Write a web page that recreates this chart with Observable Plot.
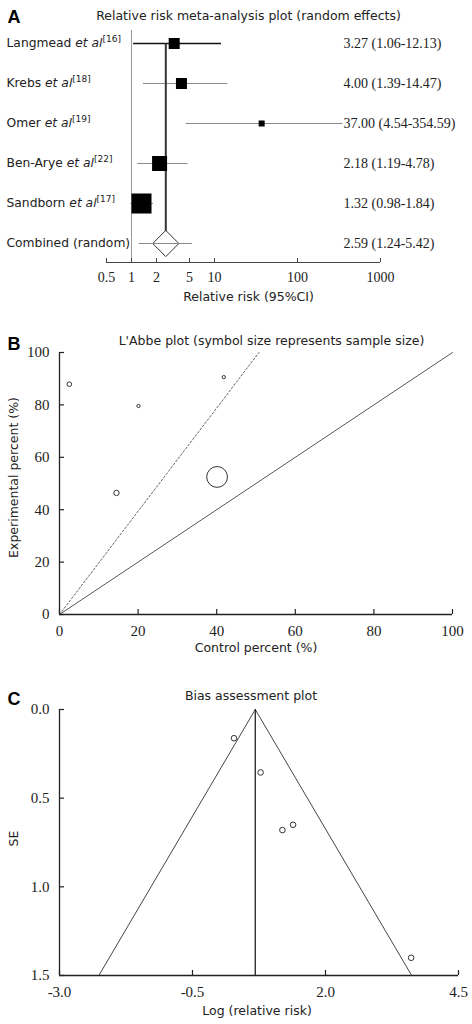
<!DOCTYPE html>
<html><head><meta charset="utf-8">
<script src="https://cdn.jsdelivr.net/npm/d3@7"></script>
<script src="https://cdn.jsdelivr.net/npm/@observablehq/plot@0.6"></script>
<style>
body{margin:0;background:#fff;}
#wrap{position:relative;width:472px;height:1024px;overflow:hidden;}
#wrap svg{position:absolute;left:0;}
</style></head><body><div id="wrap"></div>
<script>
// ---- Panel A data: relative risk meta-analysis ----
const authors = ["Langmead", "Krebs", "Omer", "Ben-Arye", "Sandborn"];
const refs = ["16", "18", "19", "22", "17"];
const rr = [3.27, 4.00, 37.00, 2.18, 1.32];
const ciLow = [1.06, 1.39, 4.54, 1.19, 0.98];
const ciHigh = [12.13, 14.47, 354.59, 4.78, 1.84];
const weights = [13.4, 13.4, 4.0, 24.9, 44.3];
const combinedLabel = "Combined (random)";
const combinedRR = 2.59, combinedLow = 1.24, combinedHigh = 5.42;
const rrTicks = [0.5, 1, 2, 5, 10, 100, 1000];

// ---- Panel B data: L'Abbe plot ----
const controlPct = [14.5, 20.1, 2.5, 41.8, 40.1];
const experimentalPct = [46.4, 79.6, 87.9, 90.6, 52.5];
const sampleSize = [40, 15, 30, 15, 600];
const labbePooledRR = 1.97;
const pctTicks = [0, 20, 40, 60, 80, 100];

// ---- Panel C data: bias assessment (funnel) ----
const logRR = [1.19, 1.39, 3.61, 0.78, 0.28];
const seValues = [0.68, 0.65, 1.40, 0.355, 0.162];
const funnelPooled = 0.68;
const logTicks = [-3.0, -0.5, 2.0, 4.5];
const seTicks = [0.0, 0.5, 1.0, 1.5];

const sans = "DejaVu Sans";
const serif = "Liberation Serif";
const ink = "#222";
const axisInk = "#222";
const baseStyle = {fontFamily: serif, fontSize: "14px", color: ink, background: "transparent", overflow: "visible"};
const sansText = {fontFamily: sans, fontSize: 12.5, fill: ink, lineAnchor: "middle"};
const letterText = {fontFamily: "Liberation Sans", fontWeight: "bold", fontSize: 18, fill: "#000", textAnchor: "start", lineAnchor: "middle", frameAnchor: "top-left"};

// ================= Panel A =================
const rowsA = authors.map((a, i) => ({author: a, ref: refs[i], rr: rr[i], lo: ciLow[i], hi: ciHigh[i], w: weights[i], row: i}));
const comb = {author: combinedLabel, ref: null, rr: combinedRR, lo: combinedLow, hi: combinedHigh, row: rowsA.length};
const allRows = [...rowsA, comb];
const axisRowA = comb.row + 0.475;

const plotA = Plot.plot({
  width: 472, height: 305, marginLeft: 106, marginRight: 92, marginTop: 30, marginBottom: 43,
  style: baseStyle,
  x: {type: "log", domain: [d3.min(rrTicks), d3.max(rrTicks)], axis: null},
  y: {domain: [0, comb.row], range: [43, 243], axis: null},
  r: {type: "sqrt", domain: [0, d3.max(weights)], range: [0, 11.3]},
  marks: [
    Plot.ruleX([1], {stroke: "#999", strokeWidth: 1}),
    Plot.ruleY([axisRowA], {stroke: "#444", strokeWidth: 1.2}),
    Plot.tickX(rrTicks, {x: d => d, insetTop: 228, stroke: "#444", strokeWidth: 1}),
    Plot.text(rrTicks, {x: d => d, text: d => String(d), frameAnchor: "bottom", lineAnchor: "middle", dy: 14.7, fontFamily: serif, fontSize: 14, fill: ink}),
    Plot.ruleY(rowsA, {y: "row", x1: "lo", x2: "hi", stroke: d => d.row === 0 ? "#111" : "#8a8a8a", strokeWidth: d => d.row === 0 ? 1.4 : 1}),
    Plot.ruleX([comb], {x: "rr", y1: 0, y2: "row", stroke: "#333", strokeWidth: 2}),
    Plot.dot(rowsA, {x: "rr", y: "row", r: "w", symbol: "square", fill: "#000", stroke: null}),
    Plot.dot([comb], {x: "rr", y: "row", r: 11.8, symbol: "diamond2", fill: "white", stroke: "#333", strokeWidth: 1}),
    Plot.ruleY([comb], {y: "row", x1: "lo", x2: "hi", stroke: "#8a8a8a", strokeWidth: 1}),
    Plot.text(allRows, {y: "row", text: "author", frameAnchor: "left", textAnchor: "start", dx: -100, fontFamily: sans, fontSize: 12.3, fill: ink}),
    Plot.text(allRows, {y: "row", text: d => `${d.rr.toFixed(2)} (${d.lo.toFixed(2)}-${d.hi.toFixed(2)})`, frameAnchor: "right", textAnchor: "start", dx: -37, fontFamily: serif, fontSize: 14, fill: ink}),
    Plot.text(["Relative risk meta-analysis plot (random effects)"], {...sansText, frameAnchor: "top", dx: 5, dy: -15}),
    Plot.text(["A"], {...letterText, dx: -99, dy: -13.3}),
    Plot.text(["Relative risk (95%CI)"], {...sansText, frameAnchor: "bottom", dx: 5, dy: 34.7})
  ]
});
// rich labels: italic "et al" + superscript reference
const ns = "http://www.w3.org/2000/svg";
plotA.querySelectorAll("text").forEach(t => {
  const d = rowsA.find(r => r.author === t.textContent);
  if (!d) return;
  t.textContent = d.author + " ";
  const it = document.createElementNS(ns, "tspan");
  it.setAttribute("font-style", "italic");
  it.textContent = "et al";
  t.append(it);
  const sup = document.createElementNS(ns, "tspan");
  sup.setAttribute("dy", "-5");
  sup.setAttribute("font-size", "9");
  sup.textContent = `[${d.ref}]`;
  t.append(sup);
});
plotA.style.top = "0px";

// ================= Panel B =================
const ptsB = authors.map((a, i) => ({author: a, c: controlPct[i], e: experimentalPct[i], n: sampleSize[i]}));
const pctExtent = d3.extent(pctTicks);
const plotB = Plot.plot({
  width: 472, height: 350, marginLeft: 59, marginRight: 20, marginTop: 47, marginBottom: 41,
  style: {...baseStyle, fontSize: "15px"},
  x: {domain: pctExtent, axis: null},
  y: {domain: pctExtent, axis: null},
  r: {type: "sqrt", domain: [0, d3.max(sampleSize)], range: [0, 10.4]},
  marks: [
    Plot.line(pctExtent, {x: d => d, y: d => d, stroke: "#555", strokeWidth: 1}),
    Plot.line(pctExtent, {x: d => d / labbePooledRR, y: d => d, stroke: "#666", strokeWidth: 1, strokeDasharray: "2,2"}),
    Plot.ruleX([pctExtent[0]], {stroke: axisInk, strokeWidth: 1.3}),
    Plot.ruleY([pctExtent[0]], {stroke: axisInk, strokeWidth: 1.3}),
    Plot.tickX(pctTicks, {x: d => d, insetTop: 257, stroke: axisInk, strokeWidth: 1.2}),
    Plot.tickY(pctTicks, {y: d => d, insetRight: 388, stroke: axisInk, strokeWidth: 1.2}),
    Plot.text(pctTicks, {x: d => d, text: d => String(d), frameAnchor: "bottom", lineAnchor: "middle", dy: 16.7, fontFamily: serif, fontSize: 15, fill: ink}),
    Plot.text(pctTicks, {y: d => d, text: d => String(d), frameAnchor: "left", textAnchor: "end", dx: -10, fontFamily: serif, fontSize: 15, fill: ink}),
    Plot.dot(ptsB, {x: "c", y: "e", r: "n", stroke: "#333", fill: "none", strokeWidth: 1}),
    Plot.text(["L'Abbe plot (symbol size represents sample size)"], {...sansText, frameAnchor: "top", dx: 15.5, dy: -12}),
    Plot.text(["B"], {...letterText, dx: -52, dy: -8.7}),
    Plot.text(["Control percent (%)"], {...sansText, frameAnchor: "bottom", dy: 33}),
    Plot.text(["Experimental percent (%)"], {...sansText, frameAnchor: "left", textAnchor: "middle", rotate: -90, dx: -46, dy: -6})
  ]
});
plotB.style.top = "305px";

// ================= Panel C =================
const ptsC = authors.map((a, i) => ({author: a, x: logRR[i], se: seValues[i]}));
const seMax = d3.max(seTicks);
const funnel = [
  {x: funnelPooled - 1.96 * seMax, se: seMax},
  {x: funnelPooled, se: 0},
  {x: funnelPooled + 1.96 * seMax, se: seMax}
];
const plotC = Plot.plot({
  width: 472, height: 369, marginLeft: 59, marginRight: 14, marginTop: 54, marginBottom: 49,
  style: {...baseStyle, fontSize: "15px"},
  x: {domain: d3.extent(logTicks), axis: null},
  y: {domain: d3.extent(seTicks), reverse: true, axis: null},
  marks: [
    Plot.line(funnel, {x: "x", y: "se", stroke: "#444", strokeWidth: 1}),
    Plot.ruleX([funnelPooled], {y1: 0, y2: seMax, stroke: "#222", strokeWidth: 1.3}),
    Plot.ruleX([d3.min(logTicks)], {stroke: axisInk, strokeWidth: 1.3}),
    Plot.ruleY([seMax], {stroke: axisInk, strokeWidth: 1.3}),
    Plot.tickX(logTicks, {x: d => d, insetTop: 261, stroke: axisInk, strokeWidth: 1.2}),
    Plot.tickY(seTicks, {y: d => d, insetRight: 394, stroke: axisInk, strokeWidth: 1.2}),
    Plot.text(logTicks, {x: d => d, text: d => d.toFixed(1), frameAnchor: "bottom", lineAnchor: "middle", dy: 16.7, fontFamily: serif, fontSize: 15, fill: ink}),
    Plot.text(seTicks, {y: d => d, text: d => d.toFixed(1), frameAnchor: "left", textAnchor: "end", dx: -10, fontFamily: serif, fontSize: 15, fill: ink}),
    Plot.dot(ptsC, {x: "x", y: "se", r: 2.8, stroke: "#333", fill: "none", strokeWidth: 1}),
    Plot.text(["Bias assessment plot"], {...sansText, frameAnchor: "top", dx: -8, dy: -14}),
    Plot.text(["C"], {...letterText, dx: -52, dy: -10}),
    Plot.text(["Log (relative risk)"], {...sansText, frameAnchor: "bottom", dx: -2, dy: 35.7}),
    Plot.text(["SE"], {...sansText, frameAnchor: "left", textAnchor: "middle", rotate: -90, dx: -46, dy: -4})
  ]
});
plotC.style.top = "655px";

const wrap = document.getElementById("wrap");
wrap.append(plotA, plotB, plotC);
</script>
</body></html>
